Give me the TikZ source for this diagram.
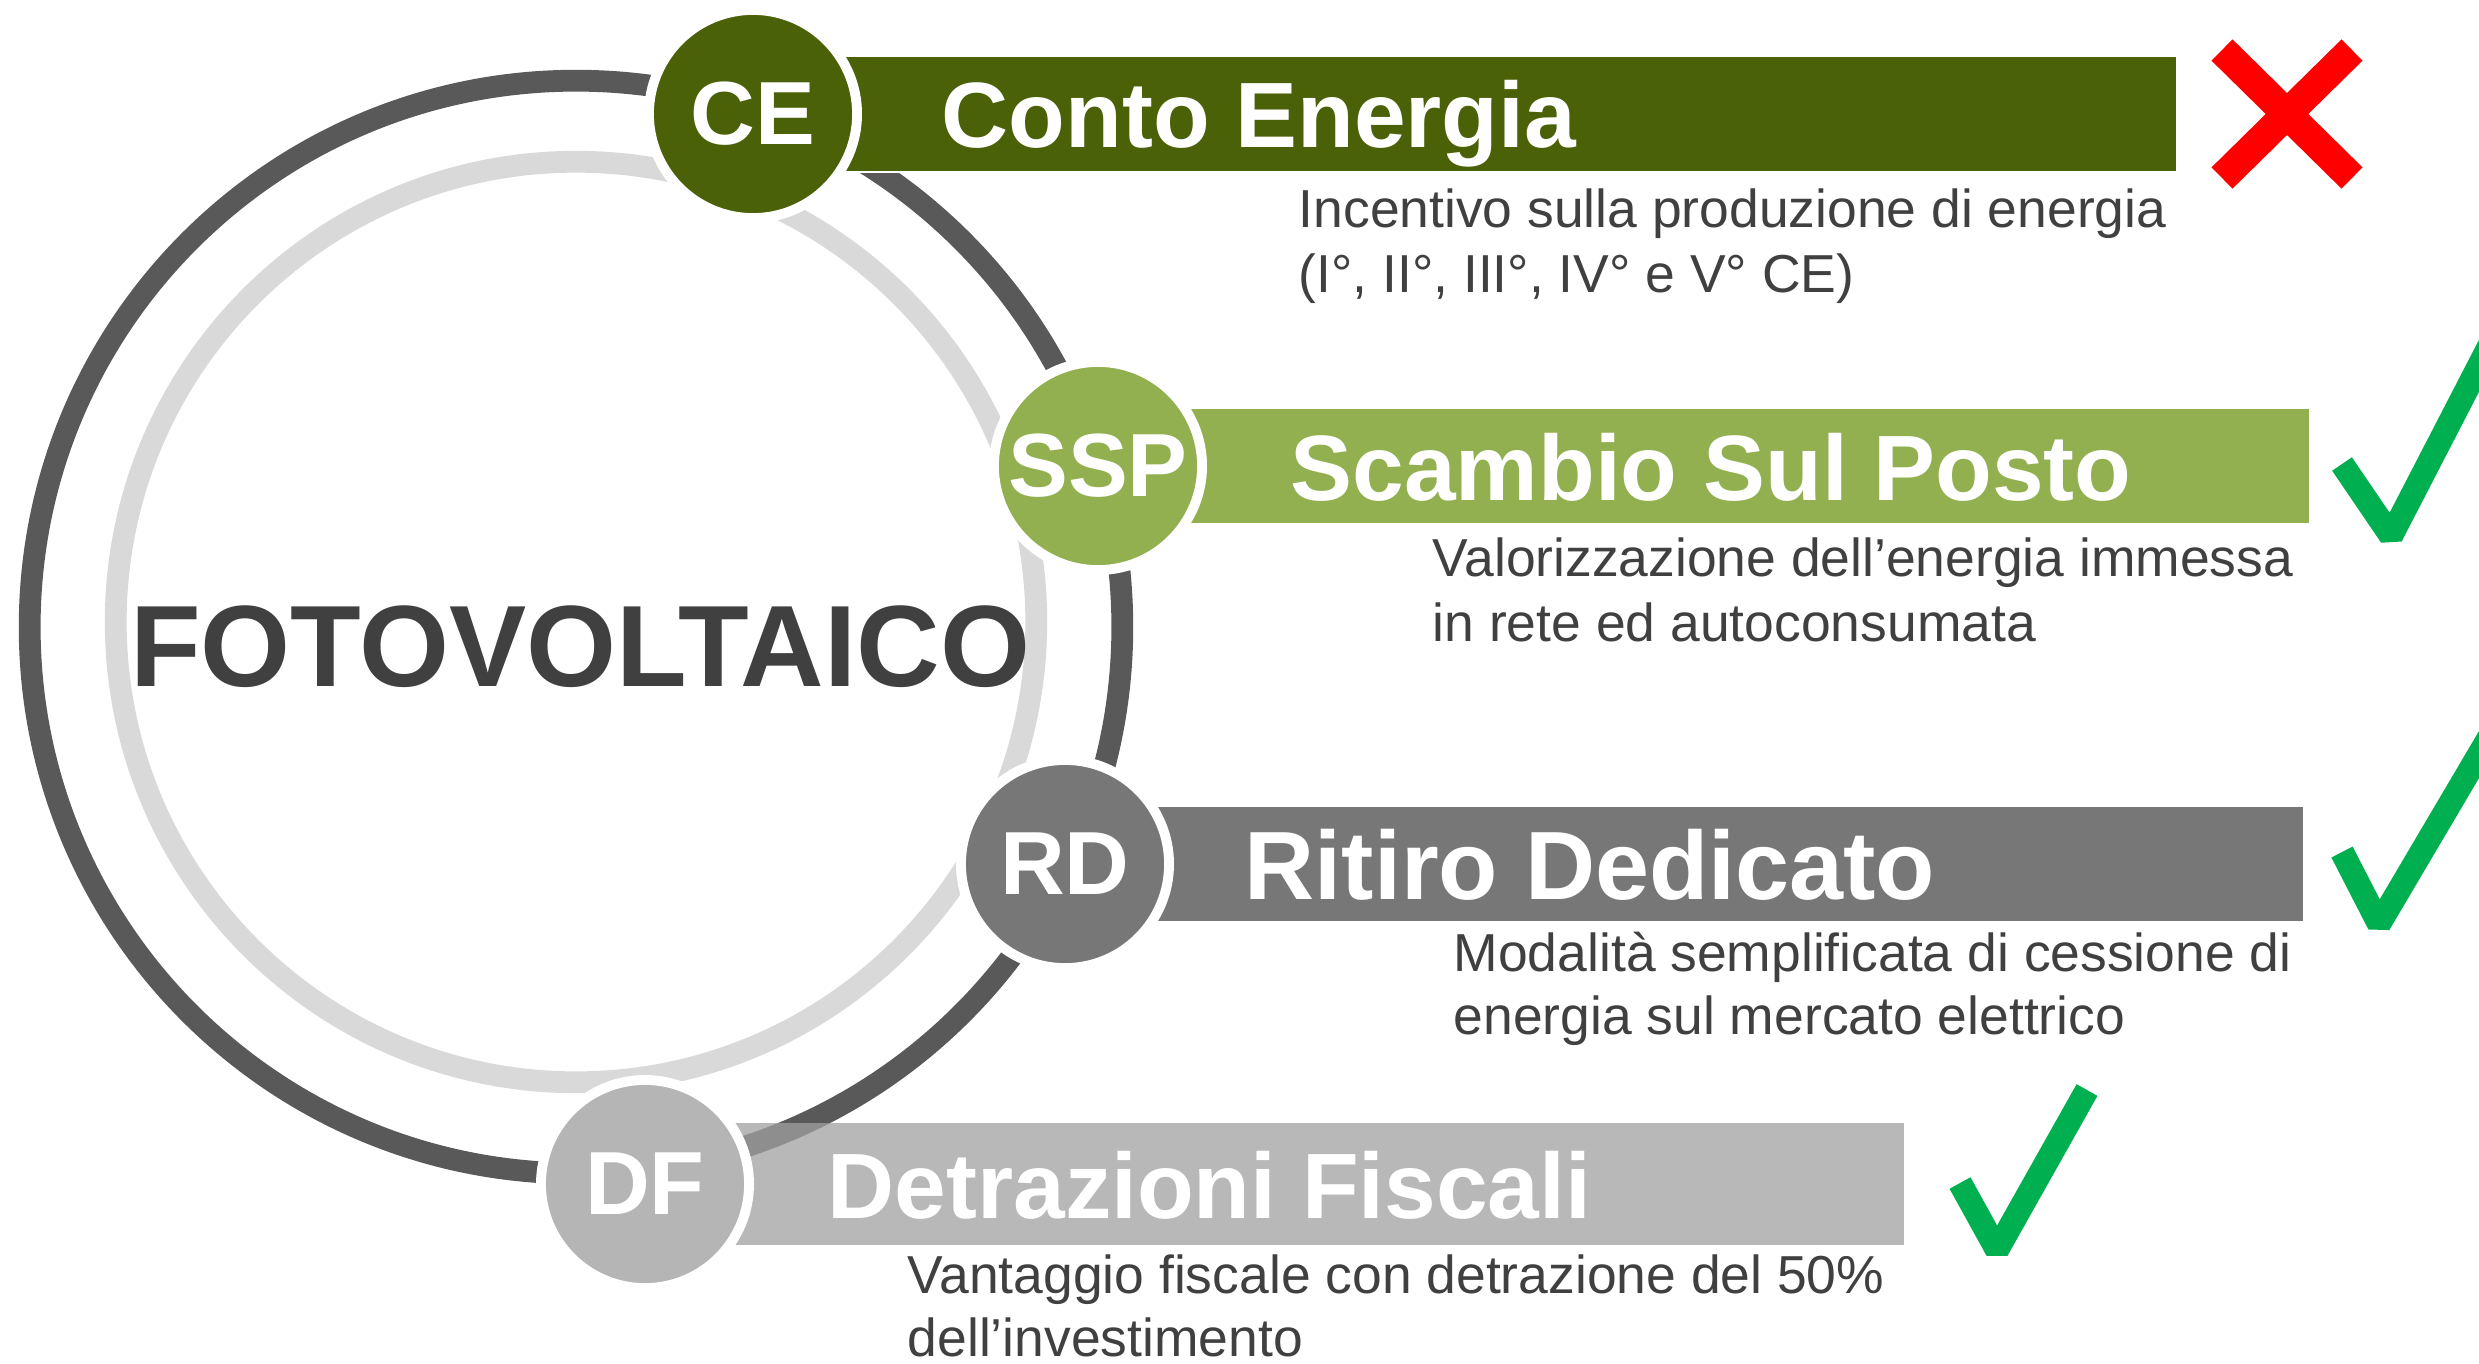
\documentclass[tikz,border=0pt]{standalone}
\usepackage{fontspec}
\setmainfont{Liberation Sans}
\definecolor{ceg}{HTML}{4A6107}
\definecolor{sspg}{HTML}{92B050}
\definecolor{rdg}{HTML}{777777}
\definecolor{dfg}{HTML}{B5B5B5}
\definecolor{dfbar}{HTML}{A0A0A0}
\definecolor{ringdark}{HTML}{595959}
\definecolor{ringlight}{HTML}{D9D9D9}
\definecolor{txtgray}{HTML}{404040}
\definecolor{okgreen}{HTML}{00B050}
\begin{document}
\begin{tikzpicture}[x=0.01cm,y=-0.01cm,
  darkring/.style={draw=ringdark,line width=6.2pt},
  lightring/.style={draw=ringlight,line width=6.2pt},
  bandbox/.style={rectangle,anchor=west,inner sep=0pt,minimum height=1.16cm},
  badge/.style={circle,draw=white,line width=2.8pt,minimum size=2.08cm,inner sep=0pt,
    text=white,font=\fontsize{25.5}{30}\selectfont\bfseries},
  title/.style={anchor=base west,inner sep=0pt,text=white,font=\fontsize{26.4}{31}\selectfont\bfseries},
  desc/.style={anchor=base west,inner sep=0pt,text=txtgray,font=\fontsize{15.2}{18}\selectfont},
  xmark/.style={draw=red,line width=8.5pt,line cap=butt},
  okmark/.style={draw=okgreen,line width=6.8pt,line cap=butt,line join=bevel}]
\useasboundingbox (0,0) rectangle (2479,1363);
\begin{scope}
\clip (0,0) rectangle (2479,1363);
% rings
\draw[darkring] (576,627) circle[radius=5.46cm];
\draw[lightring] (576,622) circle[radius=4.6cm];
% bars
\node[bandbox,fill=ceg,draw=white,line width=0.8pt,minimum width=14.22cm] (cebar) at (753,114) {};
\node[bandbox,fill=sspg,draw=white,line width=0.8pt,minimum width=12.10cm,minimum height=1.17cm] (sspbar) at (1098,466) {};
\node[bandbox,fill=rdg,draw=white,line width=0.8pt,minimum width=12.37cm] (rdbar) at (1065,864) {};
\node[bandbox,fill=dfbar,fill opacity=0.75,minimum width=12.58cm,minimum height=1.22cm] (dfbarn) at (645,1184) {};
% badges
\node[badge,fill=ceg] (ce) at (753,114) {CE};
\node[badge,fill=sspg] (ssp) at (1098,466) {SSP};
\node[badge,fill=rdg] (rd) at (1065,864) {RD};
\node[badge,fill=dfg] (df) at (645,1184) {DF};
% titles
\node[title] (cet) at (941,147) {Conto Energia};
\node[title] (sspt) at (1290,500) {Scambio Sul Posto};
\node[title,font=\fontsize{27.6}{32}\selectfont\bfseries] (rdt) at (1244,899) {Ritiro Dedicato};
\node[title] (dft) at (827,1218) {Detrazioni Fiscali};
% center label
\node[anchor=base,inner sep=0pt,text=txtgray,font=\fontsize{32.9}{37}\selectfont\bfseries] (fv) at (580,686) {FOTOVOLTAICO};
% descriptions
\node[desc] (ced1) at (1298,227) {Incentivo sulla produzione di energia};
\node[desc] (ced2) at (1298,292) {(I°, II°, III°, IV° e V° CE)};
\node[desc] (sspd1) at (1432,576) {Valorizzazione dell’energia immessa};
\node[desc] (sspd2) at (1432,641) {in rete ed autoconsumata};
\node[desc] (rdd1) at (1453,971) {Modalità semplificata di cessione di};
\node[desc] (rdd2) at (1453,1034) {energia sul mercato elettrico};
\node[desc] (dfd1) at (907,1293) {Vantaggio fiscale con detrazione del 50\%};
\node[desc] (dfd2) at (907,1356) {dell’investimento};
% marks
\draw[xmark] (2222,50) -- (2352,178);
\draw[xmark] (2352,50) -- (2222,178);
\draw[okmark] (2342,464) -- (2391,536) -- (2513,300);
\draw[okmark] (2342,852) -- (2379,924) -- (2497,724);
\draw[okmark] (1960,1183) -- (1997,1250) -- (2087,1090);
\end{scope}
\end{tikzpicture}
\end{document}
